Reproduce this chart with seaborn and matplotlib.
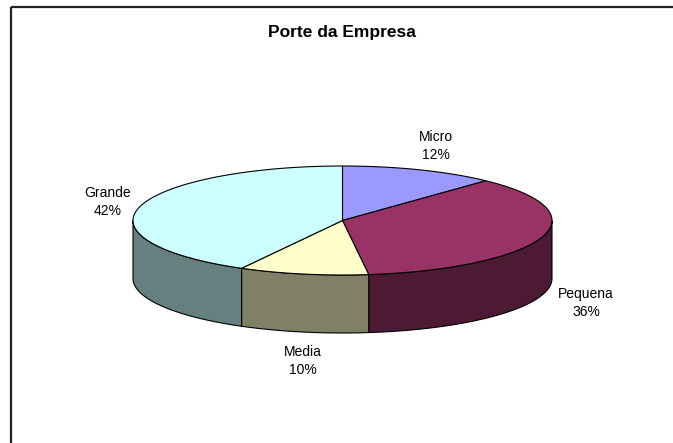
import matplotlib.pyplot as plt
import matplotlib.patches as mpatches
from matplotlib.colors import to_rgb
import numpy as np
import seaborn as sns

# Data
categories = ["Micro", "Pequena", "Media", "Grande"]
shares = [12, 36, 10, 42]
top_colors = ["#9999FF", "#993366", "#FFFFCC", "#CCFFFF"]
title = "Porte da Empresa"

sns.set_theme(style="white")
plt.rcParams["font.family"] = ["Liberation Sans", "DejaVu Sans"]

# 3D pie geometry (pixel space)
cx, cy = 342.5, 220.5
a, b = 209.5, 54.5
depth = 58

fig = plt.figure(figsize=(6.73, 4.43), dpi=100)
ax = fig.add_axes([0, 0, 1, 1])
ax.set_xlim(0, 673)
ax.set_ylim(443, 0)
ax.axis("off")


def rim(phis, dy=0):
    return np.column_stack([cx + a * np.cos(phis), cy - b * np.sin(phis) + dy])


fracs = np.array(shares) / sum(shares)
ends = 90 - 360 * np.cumsum(fracs)
starts = np.concatenate([[90], ends[:-1]])

# sides (front half only), half-tone of the top colour
for s, e, col in zip(starts, ends, top_colors):
    lo, hi = max(e, -180), min(s, 0)
    if lo >= hi:
        continue
    ph = np.radians(np.linspace(hi, lo, 80))
    pts = np.vstack([rim(ph), rim(ph[::-1], depth)])
    side = tuple(v * 0.5 for v in to_rgb(col))
    ax.add_patch(mpatches.Polygon(pts, closed=True, facecolor=side,
                                  edgecolor="black", linewidth=0.8))

# top faces
for s, e, col in zip(starts, ends, top_colors):
    ph = np.radians(np.linspace(s, e, 150))
    pts = np.vstack([[cx, cy], rim(ph)])
    ax.add_patch(mpatches.Polygon(pts, closed=True, facecolor=col,
                                  edgecolor="black", linewidth=0.8))

# labels
label_pos = {"Micro": (436, 146), "Pequena": (586, 303),
             "Media": (303, 361), "Grande": (108, 202)}
for cat, val in zip(categories, shares):
    x, y = label_pos[cat]
    ax.text(x, y, f"{cat}\n{val}%", ha="center", va="center",
            fontsize=10, linespacing=1.35, color="black")

ax.text(342, 32, title, ha="center", va="center", fontsize=12.5,
        fontweight="bold", color="black")

# chart area border (top and left only)
ax.plot([11, 673], [7, 7], color="#222222", linewidth=1.6, solid_capstyle="butt")
ax.plot([11, 11], [7, 443], color="#222222", linewidth=1.6, solid_capstyle="butt")

fig.savefig("out.png", dpi=100)
